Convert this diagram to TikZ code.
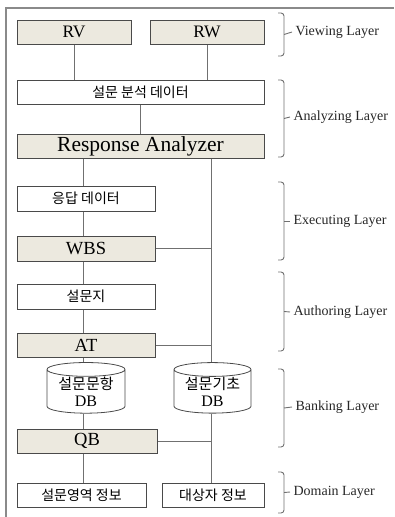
\documentclass[tikz,border=0pt]{standalone}
\usepackage{fontspec}
\setmainfont{Liberation Serif}
\newfontfamily\kr{Noto Sans CJK KR}
\usetikzlibrary{positioning,shapes.geometric}
\definecolor{boxfill}{HTML}{ECE9DF}
\definecolor{boxline}{HTML}{4A4A4A}
\definecolor{wirecol}{HTML}{707070}
\definecolor{framecol}{HTML}{8A8A8A}

\begin{document}
\begin{tikzpicture}[x=1pt, y=-1pt, on grid,
    core/.style={draw=boxline, fill=boxfill, line width=1pt, minimum height=24pt, inner sep=0pt, font=\fontsize{18.5}{18.5}\selectfont},
    data/.style={draw=boxline, fill=white, line width=1pt, minimum height=24pt, inner sep=0pt, font=\kr\fontsize{14}{14}\selectfont},
    db/.style={cylinder, shape border rotate=90, aspect=0.25, draw=boxline, fill=white, line width=0.8pt, minimum width=78pt, minimum height=47pt, inner sep=0pt, align=center, font=\fontsize{16}{17}\selectfont},
    wire/.style={draw=wirecol, line width=0.9pt},
    layer/.style={draw=wirecol, line width=0.9pt, rounded corners=3pt},
    lname/.style={anchor=west, font=\fontsize{14}{14}\selectfont, text=black!85}]
  \useasboundingbox (0,0) rectangle (394,517);
  \draw[draw=framecol, line width=1.5pt] (6,517) -- (6,8) -- (394,8);

  % layer boxes
  \node (rv) [core, minimum width=114pt, font=\fontsize{17.5}{17.5}\selectfont] at (74,32) {RV};
  \node (rw) [core, minimum width=114pt, font=\fontsize{17.5}{17.5}\selectfont] [right=133pt of rv] {RW};
  \node (sbd) [data, minimum width=247pt] [below right=60pt and 66.5pt of rv] {설문 분석 데이터};
  \node (ra) [core, minimum width=247pt, font=\fontsize{21.5}{21.5}\selectfont] [below=54pt of sbd] {Response Analyzer};
  \node (eungdap) [data, minimum width=138pt, minimum height=25pt] [below left=52.5pt and 54.5pt of ra] {응답 데이터};
  \node (wbs) [core, minimum width=138pt, minimum height=25pt] [below=50pt of eungdap] {WBS};
  \node (survey) [data, minimum width=138pt, minimum height=25pt] [below=48pt of wbs] {설문지};
  \node (at) [core, minimum width=138pt] [below=48.5pt of survey] {AT};
  \node (db1) [db] [below=46.5pt of at] {{\kr\fontsize{15}{17}\selectfont 설문문항}\\DB};
  \node (db2) [db, minimum width=77pt] [right=126.5pt of db1] {{\kr\fontsize{15}{17}\selectfont 설문기초}\\DB};
  \node (qb) [core, minimum width=140pt] [below right=49.5pt and 1pt of db1] {QB};
  \node (dom1) [data, minimum width=129pt] [below left=54pt and 5.5pt of qb] {설문영역 정보};
  \node (dom2) [data, minimum width=102pt] [right=131.5pt of dom1] {대상자 정보};

  % connectors
  \coordinate (chain) at (83,0);
  \coordinate (trunk) at (211,0);
  \path[wire]
    (rv.south) -- (rv.south |- sbd.north)
    (rw.south) -- (rw.south |- sbd.north)
    (sbd.south) -- (ra.north)
    (ra.south -| chain) -- (eungdap.north -| chain)
    (eungdap.south -| chain) -- (wbs.north -| chain)
    (wbs.south -| chain) -- (survey.north -| chain)
    (survey.south -| chain) -- (at.north -| chain)
    (at.south -| chain) -- (db1.north -| chain)
    (db1.south -| chain) -- (qb.north -| chain)
    (qb.south -| chain) -- (dom1.north -| chain)
    (ra.south -| trunk) -- (db2.north -| trunk)
    (db2.south -| trunk) -- (dom2.north -| trunk)
    (wbs.east) -- (wbs.east -| trunk)
    (at.east) -- (at.east -| trunk)
    (qb.east) -- (qb.east -| trunk);

  % layer brackets
  \draw[layer] (278,13) -| (284,56) -- (278,56);
  \draw[layer] (278,80) -| (284,157) -- (278,157);
  \draw[layer] (278,182) -| (284,260) -- (278,260);
  \draw[layer] (278,272) -| (284,351) -- (278,351);
  \draw[layer] (278,369) -| (284,447) -- (278,447);
  \draw[layer] (278,472) -| (284,513) -- (278,513);
  \node (lview) [lname] at (292,32) {Viewing Layer};
  \node (lanalyze) [lname] at (290,117) {Analyzing Layer};
  \node (lexec) [lname] at (290,221) {Executing Layer};
  \node (lauthor) [lname] at (290,312) {Authoring Layer};
  \node (lbank) [lname] at (292,407) {Banking Layer};
  \node (ldomain) [lname] at (290,492) {Domain Layer};
  \draw[layer] (284,34.5) -- (lview.west);
  \draw[layer] (284,118.5) -- (lanalyze.west);
  \draw[layer] (284,221) -- (lexec.west);
  \draw[layer] (284,311.5) -- (lauthor.west);
  \draw[layer] (284,408) -- (lbank.west);
  \draw[layer] (284,492.5) -- (ldomain.west);
\end{tikzpicture}
\end{document}
